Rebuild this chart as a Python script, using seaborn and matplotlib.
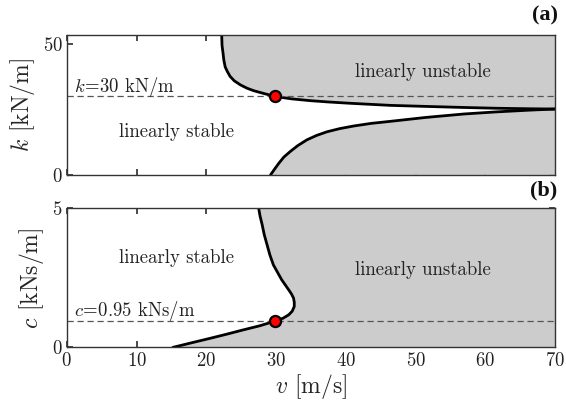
import matplotlib
matplotlib.use("Agg")
import matplotlib.pyplot as plt
import seaborn as sns
import pandas as pd

# Stability boundary in the (v, k) plane, panel (a): upper and lower branch
k_upper_v = [22.2, 22.25, 22.4, 22.5, 22.7, 23.0, 23.4, 24.0, 24.9, 25.8, 26.8, 28.3, 29.9,
             32.2, 34.9, 37.5, 40.6, 43.5, 46.4, 51.5, 56.9, 61.5, 66.5, 70.0]
k_upper_k = [53.5, 49.5, 46.4, 44.0, 41.3, 39.6, 37.7, 36.0, 34.4, 33.2, 32.2, 31.1, 30.0,
             29.1, 28.4, 27.9, 27.4, 27.0, 26.6, 26.2, 25.8, 25.5, 25.3, 25.2]
k_lower_v = [29.2, 29.8, 30.4, 31.1, 32.0, 33.1, 34.4, 35.8, 37.3, 39.1, 41.1, 43.6,
             46.4, 51.5, 56.9, 61.5, 66.5, 70.0]
k_lower_k = [0.0, 2.3, 4.5, 6.8, 8.9, 11.2, 13.4, 15.1, 16.5, 17.7, 18.7, 19.7,
             20.5, 22.0, 23.3, 24.1, 24.8, 25.2]

# Stability boundary in the (v, c) plane, panel (b)
c_curve_v = [15.2, 17.8, 20.6, 23.0, 25.3, 27.7, 29.9, 31.0, 31.8, 32.3, 32.6, 32.6, 32.5,
             32.2, 31.8, 31.3, 30.8, 30.2, 29.6, 29.1, 28.7, 28.3, 28.0, 27.7, 27.5]
c_curve_c = [0.0, 0.16, 0.33, 0.48, 0.63, 0.78, 0.95, 1.05, 1.17, 1.30, 1.47, 1.62, 1.77,
             1.92, 2.07, 2.25, 2.43, 2.70, 2.97, 3.33, 3.69, 4.05, 4.41, 4.72, 5.0]

k_ref = 30.0      # kN/m
c_ref = 0.95      # kNs/m
v_crit = 29.9     # m/s

v_ticks = [0, 10, 20, 30, 40, 50, 60, 70]
k_ticks = [0, 50]
c_ticks = [0, 5]

sns.set_theme(style="white")
plt.rcParams.update({
    "font.family": ["cmr10", "DejaVu Serif"],
    "mathtext.fontset": "cm",
    "axes.formatter.use_mathtext": True,
    "axes.edgecolor": "#333333",
    "axes.linewidth": 1.0,
    "xtick.direction": "in",
    "ytick.direction": "in",
    "xtick.major.size": 4,
    "ytick.major.size": 4,
    "xtick.color": "#333333",
    "ytick.color": "#333333",
    "xtick.labelcolor": "#222222",
    "ytick.labelcolor": "#222222",
})

fig = plt.figure(figsize=(5.66, 4.03), dpi=100)
ax_a = fig.add_axes([0.118, 0.566, 0.863, 0.347])
ax_b = fig.add_axes([0.118, 0.138, 0.863, 0.345])

gray = "#cccccc"
k_top = 53.5
c_top = 5.0
dash_kw = dict(color="#555555", lw=0.9, ls=(0, (5, 3)), zorder=3)
dot_kw = dict(marker="o", ms=8, mfc="red", mec="black", mew=1.6, ls="none", zorder=5)
txt_kw = dict(fontsize=13.5, ha="center", va="center", color="#222222")

# --- panel (a) ---
ax_a.fill(k_upper_v + [70, k_upper_v[0]], k_upper_k + [k_top, k_top], color=gray, lw=0)
ax_a.fill(k_lower_v + [70], k_lower_k + [0], color=gray, lw=0)
up = pd.DataFrame({"v": k_upper_v, "k": k_upper_k})
lo = pd.DataFrame({"v": k_lower_v, "k": k_lower_k})
sns.lineplot(data=up, x="v", y="k", sort=False, estimator=None, color="black", lw=2, ax=ax_a)
sns.lineplot(data=lo, x="v", y="k", sort=False, estimator=None, color="black", lw=2, ax=ax_a)
ax_a.axhline(k_ref, **dash_kw)
ax_a.plot([v_crit], [k_ref], **dot_kw)
ax_a.text(1.0, 31.6, r"$k\!=\!30$ kN/m", fontsize=13.5, color="#222222")
ax_a.text(15.7, 16.6, "linearly stable", **txt_kw)
ax_a.text(51.0, 39.4, "linearly unstable", **txt_kw)
ax_a.set_xlim(0, 70)
ax_a.set_ylim(0, k_top)
ax_a.set_xticks(v_ticks)
ax_a.set_yticks(k_ticks)
ax_a.tick_params(labelbottom=False, top=True, right=True, bottom=True, left=True,
                 labelsize=13.5, pad=3)
ax_a.set_xlabel("")
ax_a.set_ylabel(r"$k$ [kN/m]", fontsize=17, labelpad=4)

# --- panel (b) ---
ax_b.fill(c_curve_v + [70, 70], c_curve_c + [c_top, 0], color=gray, lw=0)
cc = pd.DataFrame({"v": c_curve_v, "c": c_curve_c})
sns.lineplot(data=cc, x="v", y="c", sort=False, estimator=None, color="black", lw=2, ax=ax_b)
ax_b.axhline(c_ref, **dash_kw)
ax_b.plot([v_crit], [c_ref], **dot_kw)
ax_b.text(1.0, 1.12, r"$c\!=\!0.95$ kNs/m", fontsize=13.5, color="#222222")
ax_b.text(15.7, 3.2, "linearly stable", **txt_kw)
ax_b.text(51.0, 2.79, "linearly unstable", **txt_kw)
ax_b.set_xlim(0, 70)
ax_b.set_ylim(0, c_top)
ax_b.set_xticks(v_ticks)
ax_b.set_yticks(c_ticks)
ax_b.tick_params(top=True, right=True, bottom=True, left=True, labelsize=13.5, pad=3)
ax_b.set_xlabel(r"$v$ [m/s]", fontsize=17, labelpad=2)
ax_b.set_ylabel(r"$c$ [kNs/m]", fontsize=17, labelpad=4)

for ax in (ax_a, ax_b):
    for s in ax.spines.values():
        s.set_visible(True)
        s.set_zorder(6)

panel_font = ["Liberation Serif", "Times New Roman", "DejaVu Serif"]
fig.text(0.985, 0.962, "(a)", fontsize=16, fontweight="bold", family=panel_font,
         ha="right", va="center", color="#111111")
fig.text(0.985, 0.528, "(b)", fontsize=16, fontweight="bold", family=panel_font,
         ha="right", va="center", color="#111111")

fig.savefig("out.png", dpi=100)
